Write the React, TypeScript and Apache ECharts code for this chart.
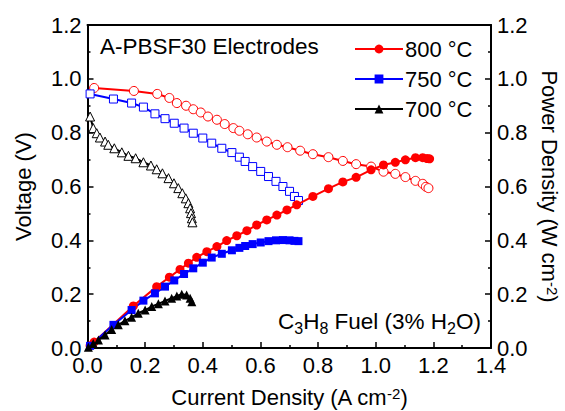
import React, { useEffect, useRef } from "react";
import * as echarts from "echarts";

// 800 °C
const v800X = [0.023, 0.161, 0.242, 0.284, 0.310, 0.342, 0.367, 0.393, 0.418, 0.449, 0.476, 0.506, 0.527, 0.556, 0.587, 0.622, 0.657, 0.694, 0.738, 0.782, 0.836, 0.886, 0.932, 0.984, 1.027, 1.068, 1.103, 1.138, 1.163, 1.174, 1.183];
const v800Y = [0.966, 0.955, 0.944, 0.929, 0.910, 0.900, 0.887, 0.875, 0.860, 0.848, 0.832, 0.817, 0.807, 0.794, 0.782, 0.767, 0.755, 0.746, 0.733, 0.720, 0.709, 0.695, 0.683, 0.674, 0.655, 0.647, 0.635, 0.621, 0.610, 0.599, 0.594];
const p800X = [0.009, 0.023, 0.159, 0.240, 0.284, 0.321, 0.350, 0.379, 0.414, 0.449, 0.483, 0.518, 0.553, 0.587, 0.622, 0.657, 0.692, 0.726, 0.782, 0.836, 0.886, 0.932, 0.984, 1.027, 1.068, 1.103, 1.138, 1.163, 1.178, 1.187];
const p800Y = [0.008, 0.022, 0.156, 0.228, 0.263, 0.292, 0.315, 0.337, 0.358, 0.377, 0.399, 0.417, 0.436, 0.457, 0.476, 0.494, 0.513, 0.532, 0.563, 0.592, 0.617, 0.634, 0.662, 0.680, 0.690, 0.699, 0.707, 0.707, 0.704, 0.703];

// 750 °C
const v750X = [0.009, 0.090, 0.153, 0.194, 0.234, 0.269, 0.301, 0.335, 0.367, 0.400, 0.431, 0.466, 0.501, 0.527, 0.547, 0.573, 0.601, 0.628, 0.654, 0.678, 0.701, 0.718, 0.732];
const v750Y = [0.944, 0.925, 0.910, 0.895, 0.870, 0.852, 0.835, 0.817, 0.798, 0.780, 0.761, 0.742, 0.726, 0.709, 0.693, 0.674, 0.656, 0.637, 0.619, 0.600, 0.582, 0.563, 0.548];
const p750X = [0.009, 0.090, 0.153, 0.194, 0.234, 0.269, 0.301, 0.335, 0.367, 0.400, 0.431, 0.466, 0.501, 0.527, 0.547, 0.573, 0.601, 0.628, 0.654, 0.678, 0.701, 0.718, 0.732];
const p750Y = [0.008, 0.086, 0.141, 0.176, 0.203, 0.228, 0.251, 0.275, 0.296, 0.317, 0.336, 0.350, 0.363, 0.372, 0.379, 0.386, 0.392, 0.397, 0.400, 0.401, 0.400, 0.398, 0.397];

// 700 °C
const v700X = [0.009, 0.020, 0.032, 0.043, 0.061, 0.072, 0.093, 0.119, 0.142, 0.167, 0.194, 0.220, 0.240, 0.260, 0.281, 0.300, 0.315, 0.329, 0.341, 0.350, 0.356, 0.359, 0.362, 0.364];
const v700Y = [0.860, 0.817, 0.798, 0.782, 0.767, 0.755, 0.742, 0.727, 0.714, 0.705, 0.690, 0.678, 0.664, 0.649, 0.631, 0.612, 0.594, 0.575, 0.556, 0.538, 0.519, 0.501, 0.482, 0.467];
const p700X = [0.003, 0.020, 0.038, 0.061, 0.084, 0.107, 0.130, 0.153, 0.176, 0.200, 0.223, 0.246, 0.269, 0.292, 0.310, 0.327, 0.344, 0.356, 0.362];
const p700Y = [0.003, 0.017, 0.030, 0.048, 0.069, 0.086, 0.101, 0.114, 0.129, 0.141, 0.154, 0.164, 0.175, 0.185, 0.193, 0.200, 0.197, 0.185, 0.172];

const legendNames = ["800 °C", "750 °C", "700 °C"];

const FONT = "'Liberation Sans', Arial, sans-serif";

const pairs = (xs: number[], ys: number[]) => xs.map((x, i) => [x, ys[i]]);

export default function App() {
  const ref = useRef<HTMLDivElement>(null);
  useEffect(() => {
    if (!ref.current) return;
    const chart = echarts.init(ref.current, null, { renderer: "svg" });
    const axisLineStyle = { color: "#000", width: 2 };
    const richAxis = {
      n: { fontSize: 22, fontFamily: FONT, color: "#000" },
      s: { fontSize: 15, fontFamily: FONT, color: "#000", verticalAlign: "top" as const },
    };
    const openSeries = (name: string, data: number[][], color: string, symbol: string, size: number) => ({
      name,
      type: "line",
      data,
      xAxisIndex: 0,
      yAxisIndex: 0,
      symbol,
      symbolSize: size,
      showSymbol: true,
      lineStyle: { color, width: 2 },
      itemStyle: { color: "#fff", borderColor: color, borderWidth: 1 },
      z: 3,
    });
    const fullSeries = (name: string, data: number[][], color: string, symbol: string, size: number) => ({
      name,
      type: "line",
      data,
      xAxisIndex: 0,
      yAxisIndex: 1,
      symbol,
      symbolSize: size,
      showSymbol: true,
      lineStyle: { color, width: 2 },
      itemStyle: { color, borderWidth: 0 },
      z: 4,
    });
    const yCommon = {
      type: "value" as const,
      min: 0,
      max: 1.2,
      interval: 0.2,
      axisLine: { show: true, onZero: false, lineStyle: axisLineStyle },
      axisTick: { show: true, inside: true, length: 6, lineStyle: { color: "#000", width: 1.5 } },
      minorTick: { show: true, splitNumber: 2, length: 3, lineStyle: { color: "#000", width: 1.5 } },
      splitLine: { show: false },
      axisLabel: { formatter: (v: number) => v.toFixed(1), fontSize: 22, fontFamily: FONT, color: "#000", margin: 6 },
      nameLocation: "middle" as const,
    };
    chart.setOption({
      animation: false,
      grid: { left: 87.5, right: 74, top: 25, bottom: 63, containLabel: false, outerBoundsMode: "none" },
      xAxis: [
        {
          type: "value",
          min: 0,
          max: 1.4,
          interval: 0.2,
          position: "bottom",
          axisLine: { show: true, onZero: false, lineStyle: axisLineStyle },
          axisTick: { show: true, inside: true, length: 6, lineStyle: { color: "#000", width: 1.5 } },
          minorTick: { show: true, splitNumber: 2, length: 3, lineStyle: { color: "#000", width: 1.5 } },
          splitLine: { show: false },
          axisLabel: { formatter: (v: number) => v.toFixed(1), fontSize: 22, fontFamily: FONT, color: "#000", margin: 6 },
          name: "{n|Current Density (A cm}{s|-2}{n|)}",
          nameLocation: "middle",
          nameGap: 38,
          nameTextStyle: { rich: richAxis },
        },
        {
          type: "value",
          min: 0,
          max: 1.4,
          position: "top",
          axisLine: { show: true, onZero: false, lineStyle: axisLineStyle },
          axisTick: { show: false },
          axisLabel: { show: false },
          splitLine: { show: false },
        },
      ],
      yAxis: [
        {
          ...yCommon,
          position: "left",
          name: "Voltage (V)",
          nameGap: 53,
          nameTextStyle: { fontSize: 22, fontFamily: FONT, color: "#000" },
        },
        {
          ...yCommon,
          position: "right",
          name: "{n|Power Density (W cm}{s|-2}{n|)}",
          nameRotate: -90,
          nameGap: 46,
          nameTextStyle: { rich: richAxis },
        },
      ],
      legend: {
        data: legendNames,
        orient: "vertical",
        left: 349,
        top: 33,
        itemWidth: 48,
        itemHeight: 11,
        itemGap: 8,
        textStyle: { fontSize: 22, fontFamily: FONT, color: "#000", padding: [0, 0, 0, -3] },
      },
      graphic: [
        {
          type: "text",
          x: 100,
          y: 46,
          style: { text: "A-PBSF30 Electrodes", fontSize: 22.5, fontFamily: FONT, fill: "#000", verticalAlign: "middle" },
        },
        {
          type: "text",
          x: 481,
          y: 323,
          style: {
            text: "{n|C}{s|3}{n|H}{s|8}{n| Fuel (3% H}{s|2}{n|O)}",
            align: "right",
            verticalAlign: "middle",
            rich: {
              n: { fontSize: 22.5, fontFamily: FONT, fill: "#000", verticalAlign: "top", lineHeight: 26 },
              s: { fontSize: 16, fontFamily: FONT, fill: "#000", verticalAlign: "bottom", lineHeight: 26 },
            },
          },
        },
      ],
      series: [
        openSeries("V800", pairs(v800X, v800Y), "#ff0000", "circle", 9),
        openSeries("V750", pairs(v750X, v750Y), "#0000ff", "rect", 8),
        openSeries("V700", pairs(v700X, v700Y), "#000000", "triangle", 9),
        fullSeries("800 °C", pairs(p800X, p800Y), "#ff0000", "circle", 9),
        fullSeries("750 °C", pairs(p750X, p750Y), "#0000ff", "rect", 8),
        fullSeries("700 °C", pairs(p700X, p700Y), "#000000", "triangle", 9),
      ],
    });
    return () => chart.dispose();
  }, []);
  return <div ref={ref} style={{ width: 565, height: 411, position: "absolute", left: 0, top: 0 }} />;
}
